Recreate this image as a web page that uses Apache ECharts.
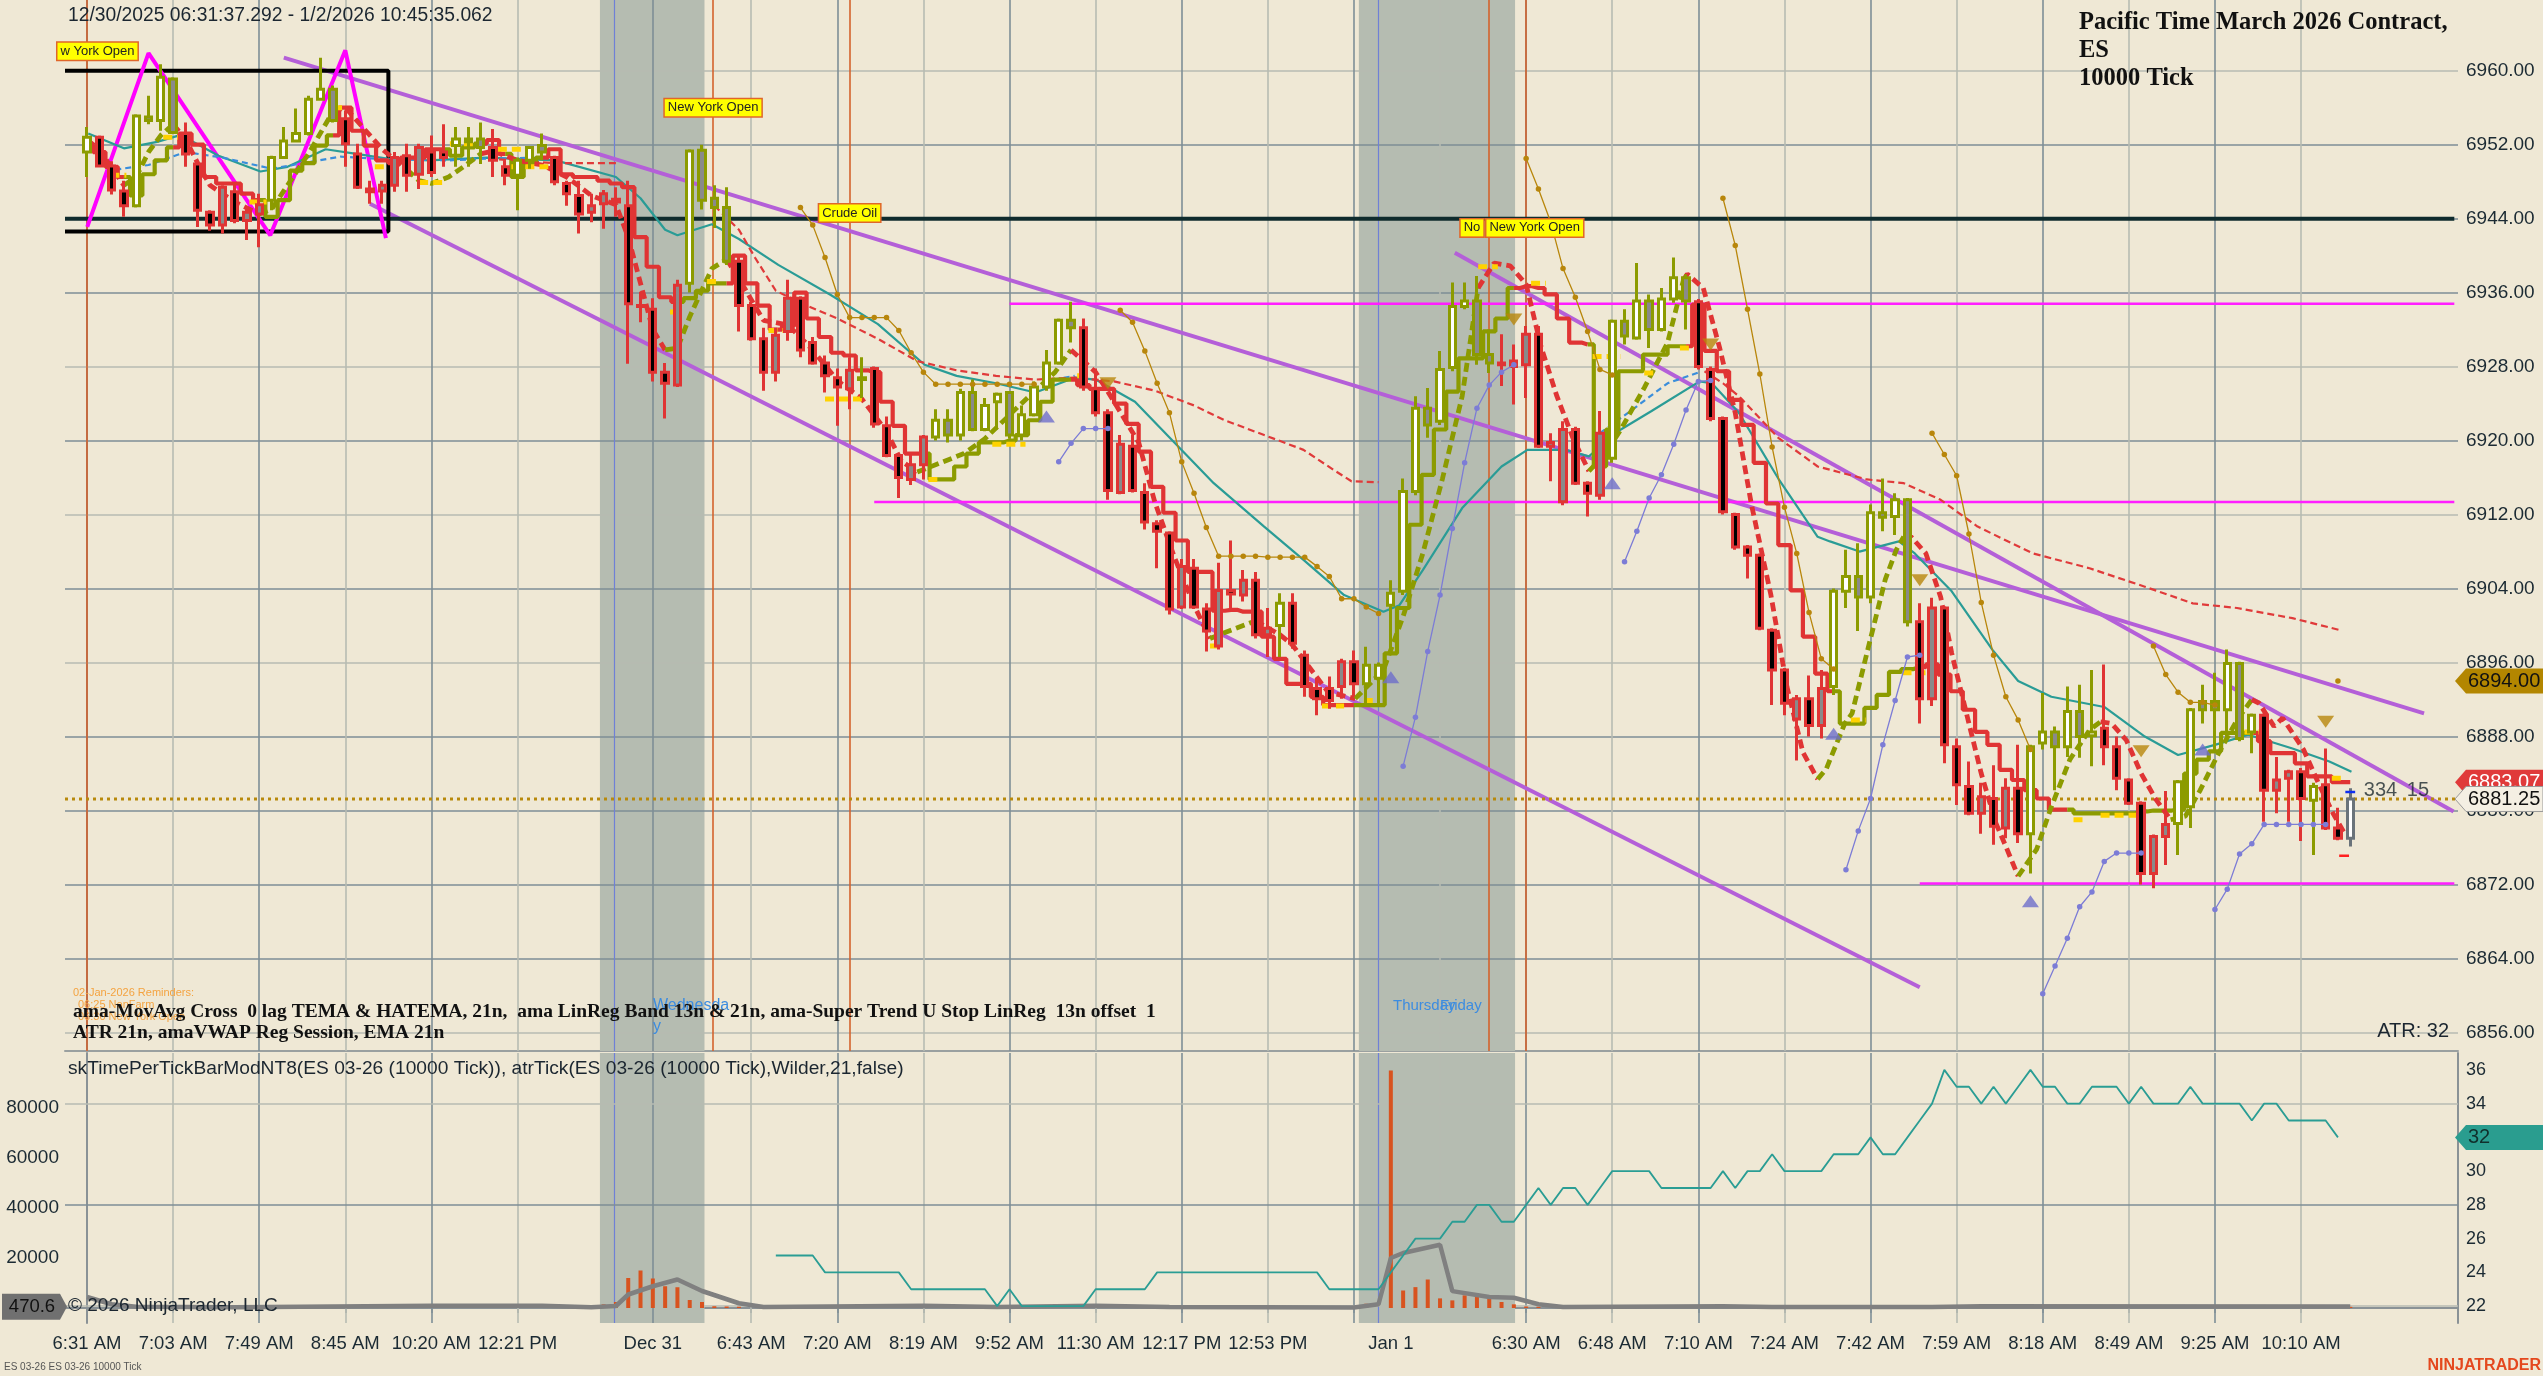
<!DOCTYPE html>
<html><head><meta charset="utf-8">
<script src="https://cdn.jsdelivr.net/npm/echarts@6/dist/echarts.min.js"></script>
<style>html,body{margin:0;padding:0;background:#EFE8D5;}#c{width:2543px;height:1376px;}</style>
</head><body><div id="c"></div>
<script>
// ---------------- DATA ----------------
const open=[6951.2,6952.8,6949.7,6947.0,6945.4,6955.0,6954.6,6959.1,6953.2,6949.9,6944.7,6943.3,6946.9,6943.8,6944.5,6946.0,6950.6,6952.4,6953.2,6956.9,6958.0,6954.8,6951.0,6947.2,6947.0,6947.6,6950.8,6948.8,6951.2,6951.2,6951.9,6952.3,6952.6,6951.7,6949.6,6948.7,6950.3,6951.9,6950.6,6947.8,6946.5,6944.7,6945.6,6946.1,6945.4,6934.6,6934.2,6927.4,6926.0,6937.0,6951.4,6946.2,6945.2,6939.4,6934.6,6931.0,6927.4,6931.8,6935.4,6930.6,6928.4,6926.8,6925.6,6926.8,6927.8,6921.6,6918.4,6915.8,6917.4,6920.4,6922.2,6920.6,6925.2,6921.2,6924.2,6925.2,6920.6,6922.8,6925.8,6928.4,6933.0,6932.2,6925.6,6923.0,6914.4,6919.4,6914.4,6911.0,6910.0,6902.0,6906.2,6901.8,6897.8,6903.8,6903.3,6904.9,6899.0,6900.0,6902.4,6896.8,6893.2,6893.2,6893.4,6896.1,6893.7,6894.3,6902.2,6903.7,6914.5,6923.5,6922.1,6927.9,6934.5,6935.1,6929.3,6928.4,6928.0,6928.2,6931.5,6919.4,6913.4,6921.2,6915.4,6914.1,6918.1,6932.9,6931.1,6935.1,6932.0,6935.3,6937.6,6935.0,6927.7,6922.4,6912.0,6908.5,6907.6,6899.5,6895.2,6889.9,6892.1,6889.2,6893.4,6903.7,6905.3,6903.1,6912.2,6911.8,6913.6,6900.4,6892.1,6901.9,6886.9,6882.6,6879.7,6881.3,6878.1,6882.4,6877.5,6887.3,6888.5,6886.9,6890.7,6888.1,6888.9,6886.9,6883.3,6880.8,6873.2,6877.2,6878.6,6880.4,6891.8,6891.8,6890.9,6895.9,6888.5,6890.3,6882.2,6883.5,6884.2,6881.1,6882.8,6878.1,6877.0];
const high=[6953.9,6953.0,6950.2,6948.1,6955.3,6957.3,6960.7,6959.3,6954.4,6950.2,6944.9,6947.6,6947.8,6945.1,6946.7,6950.8,6953.9,6955.9,6957.3,6961.4,6958.4,6955.7,6952.1,6948.1,6948.1,6951.2,6952.1,6952.1,6953.0,6954.2,6953.9,6953.9,6954.4,6953.7,6950.3,6950.6,6951.7,6953.2,6950.8,6948.1,6948.1,6946.7,6947.1,6947.4,6948.1,6936.1,6935.4,6928.4,6937.4,6951.5,6952.0,6947.6,6947.4,6940.0,6935.0,6932.2,6932.2,6937.4,6935.6,6931.2,6929.2,6927.8,6929.0,6929.0,6928.0,6922.6,6918.6,6918.6,6920.6,6923.4,6923.4,6925.6,6926.6,6924.6,6925.2,6925.2,6923.8,6926.4,6929.8,6933.2,6935.0,6933.2,6927.8,6923.4,6920.6,6920.6,6915.4,6911.4,6910.2,6907.2,6907.2,6902.4,6906.8,6909.2,6906.0,6905.8,6901.9,6903.5,6903.5,6897.3,6894.3,6894.5,6896.4,6897.3,6897.7,6896.0,6904.9,6915.9,6924.8,6925.7,6929.7,6937.1,6937.1,6937.8,6932.0,6931.5,6930.4,6932.4,6932.4,6920.8,6922.1,6921.5,6915.6,6923.2,6933.1,6934.2,6939.2,6935.8,6936.5,6939.8,6938.0,6935.3,6928.0,6922.6,6912.2,6908.7,6907.8,6899.7,6895.4,6892.5,6894.6,6895.2,6904.0,6908.2,6908.9,6913.1,6915.9,6914.3,6913.8,6902.4,6903.0,6902.1,6887.8,6885.3,6883.0,6884.9,6883.5,6887.1,6887.1,6892.7,6889.1,6893.4,6893.6,6895.2,6895.8,6888.0,6883.5,6881.0,6877.4,6882.1,6883.3,6891.1,6893.6,6894.9,6897.4,6896.1,6890.5,6890.5,6885.8,6884.4,6884.6,6883.0,6886.7,6880.3,6882.4];
const low=[6948.5,6949.6,6946.6,6944.2,6945.2,6954.2,6953.5,6953.2,6949.6,6943.1,6942.7,6942.4,6943.5,6941.7,6940.9,6944.9,6950.5,6952.3,6953.0,6956.8,6954.4,6949.6,6947.2,6945.6,6945.6,6946.9,6946.9,6947.2,6948.5,6949.6,6949.6,6949.6,6949.9,6948.5,6947.6,6944.9,6949.4,6950.3,6947.6,6945.4,6942.4,6943.6,6942.9,6944.2,6928.3,6932.8,6926.4,6922.4,6925.8,6936.0,6945.0,6943.0,6939.0,6931.8,6930.8,6925.4,6926.4,6930.8,6929.0,6928.2,6925.2,6921.6,6923.4,6924.6,6921.4,6918.2,6913.8,6915.2,6915.8,6920.0,6919.8,6920.0,6921.0,6921.0,6921.2,6920.2,6920.0,6922.6,6925.4,6928.2,6930.6,6925.4,6922.6,6913.6,6914.2,6914.4,6910.4,6906.2,6901.2,6901.8,6901.8,6897.2,6897.4,6901.8,6902.6,6898.6,6896.6,6896.6,6897.5,6892.3,6890.3,6891.0,6892.1,6892.3,6891.6,6891.4,6897.0,6903.3,6914.1,6920.3,6921.7,6927.5,6934.2,6928.2,6927.3,6925.9,6923.9,6924.6,6919.2,6915.6,6913.0,6915.2,6911.8,6913.6,6917.6,6930.4,6930.9,6930.0,6931.8,6934.9,6932.0,6927.7,6922.1,6912.0,6908.2,6905.1,6899.5,6891.4,6890.3,6885.4,6888.0,6887.8,6892.5,6901.9,6899.4,6902.4,6910.2,6909.8,6899.9,6889.4,6891.3,6885.1,6880.6,6879.5,6877.5,6876.3,6877.0,6876.5,6873.2,6886.6,6882.2,6885.8,6885.7,6884.8,6884.9,6882.2,6880.6,6872.0,6871.6,6874.1,6875.2,6878.1,6889.4,6886.4,6888.0,6887.5,6886.2,6878.8,6879.7,6878.8,6876.7,6875.2,6877.9,6876.8,6876.1];
const close=[6952.8,6949.7,6947.1,6945.4,6955.1,6954.6,6959.3,6953.3,6951.0,6944.9,6943.3,6947.4,6943.8,6944.7,6945.5,6950.6,6952.4,6953.2,6956.9,6958.0,6954.6,6952.1,6947.4,6946.9,6947.6,6950.6,6948.7,6951.7,6949.0,6950.6,6952.6,6952.6,6951.7,6950.3,6948.7,6950.3,6951.7,6951.2,6948.0,6946.7,6944.5,6945.4,6946.7,6945.8,6934.8,6934.5,6927.4,6926.2,6936.8,6951.3,6946.0,6945.2,6939.4,6934.6,6931.0,6927.4,6931.4,6935.4,6929.8,6928.4,6927.0,6925.8,6927.6,6926.6,6921.8,6918.4,6916.0,6917.4,6920.4,6922.2,6920.6,6925.2,6921.2,6923.8,6925.0,6920.6,6922.8,6925.8,6928.4,6933.0,6932.2,6925.8,6923.0,6914.6,6919.6,6914.6,6911.2,6910.2,6901.8,6906.4,6902.0,6899.4,6903.8,6903.4,6904.9,6899.0,6899.7,6902.4,6898.1,6893.4,6892.1,6891.9,6896.1,6893.7,6895.7,6895.7,6903.5,6914.5,6923.5,6921.7,6927.7,6934.5,6935.1,6929.3,6928.4,6928.2,6928.6,6931.5,6919.4,6919.8,6921.2,6915.4,6914.3,6920.8,6932.9,6931.3,6935.1,6932.0,6935.3,6937.6,6935.1,6928.0,6922.4,6912.3,6908.5,6907.6,6899.7,6895.2,6891.6,6892.1,6889.2,6893.2,6903.7,6905.3,6903.1,6912.2,6911.7,6913.6,6900.4,6892.1,6901.9,6887.1,6882.8,6879.7,6881.5,6878.3,6882.4,6877.5,6886.9,6888.5,6886.9,6890.7,6888.0,6888.5,6886.9,6883.5,6880.8,6873.2,6877.2,6878.5,6883.1,6890.9,6890.9,6890.9,6895.9,6887.8,6890.3,6882.2,6883.3,6884.2,6881.3,6882.6,6878.1,6877.0,6881.25];
// bar colouring: g = up-trend (olive), r = down-trend (red), n = forming bar
const trend=["g","rrr","gggg","rrrrrrr","gggggg","rrrrrrrrr","ggg","rr","ggg","rrrrrrrrrrr","gggg","rrrrrrrrrr","g","rrrrr","gggggggggggg","rrrrrrrrrrrrrrrr","g","rrrrrr","ggggggggggg","rrrrrrrrr","ggggggg","rrrrrrrrrrr","ggggggg","rrrrrrrrr","gggggg","rrrrrr","ggggggg","rrrr","g","rr","n"].join('');
// stepped trend line (ama LinReg) and its colour
const trailVals=[6951.9,6951.2,6949.6,6948.5,6946.5,6948.8,6950.3,6951.7,6953.2,6952.0,6948.5,6947.8,6947.8,6946.7,6946.0,6944.2,6946.0,6949.2,6950.0,6951.9,6953.0,6956.0,6953.5,6951.9,6950.3,6950.0,6950.6,6950.6,6951.5,6951.5,6950.8,6951.7,6952.1,6952.5,6951.0,6948.5,6950.0,6950.6,6951.5,6948.8,6948.5,6948.5,6948.1,6947.8,6947.4,6942.0,6938.8,6935.5,6935.0,6935.4,6936.2,6937.0,6937.0,6940.0,6937.0,6934.6,6932.0,6932.4,6936.0,6933.2,6931.2,6929.5,6929.2,6927.6,6927.4,6924.2,6921.6,6918.6,6918.6,6915.8,6915.8,6917.2,6918.6,6919.8,6919.8,6920.0,6920.6,6922.2,6924.2,6926.6,6926.6,6926.0,6925.6,6925.6,6924.0,6921.8,6918.8,6915.0,6912.2,6909.2,6905.8,6905.8,6901.6,6901.7,6901.5,6901.5,6898.8,6896.4,6893.7,6893.7,6892.3,6891.4,6891.4,6891.4,6891.4,6891.4,6897.0,6901.9,6910.9,6916.3,6921.2,6925.3,6928.9,6928.9,6931.8,6933.2,6936.5,6936.7,6936.5,6935.8,6933.2,6930.6,6930.4,6917.2,6921.2,6927.5,6927.5,6929.3,6929.3,6930.2,6930.2,6934.7,6929.7,6927.5,6924.4,6921.7,6917.6,6913.2,6908.7,6903.8,6898.8,6894.8,6892.9,6889.4,6889.4,6891.1,6892.5,6895.0,6895.3,6895.5,6895.8,6894.7,6892.9,6890.9,6888.5,6887.1,6884.4,6883.3,6882.2,6881.3,6880.1,6880.1,6879.7,6879.7,6879.7,6879.7,6879.7,6879.9,6880.0,6880.0,6880.1,6884.0,6885.5,6886.4,6888.4,6888.4,6888.4,6887.5,6886.2,6886.2,6885.1,6883.7,6883.7,6883.07,6883.07];
const trailDir=["rrrr","gggg","rrrrrrr","gggggg","rrrrrrrrr","ggg","rr","ggg","rrrrrrrrrrr","gggg","rrrrrrrrrrrrrrrr","gggggggggggg","rrrrrrrrrrrrrrrrrrrrrrr","ggggggggggggg","rrrrrr","gggggggg","rrrrrrrrrrrr","ggggggg","rrrrrrrrrrrr","ggggggggggggggg","rrrrrrrr"].join('');
// thick dashed HATEMA line: [bar, price, colour]
const hatema=[[0,6952.5,'r'],[1,6951.5,'r'],[2,6949.5,'r'],[3,6947.6,'r'],[4,6948.5,'g'],[5,6951.2,'g'],[6,6953,'g'],[7,6954.2,'g'],[8,6952.6,'r'],[9,6950,'r'],[10,6947.6,'r'],[12,6945.8,'r'],[14,6944.5,'r'],[15,6945,'g'],[16,6947,'g'],[18,6951,'g'],[20,6955.6,'g'],[21,6956,'r'],[22,6954.5,'r'],[24,6951.5,'r'],[26,6949.3,'r'],[27,6948.1,'g'],[28,6947.8,'g'],[29.4,6948.5,'g'],[30.6,6949.6,'g'],[32,6951,'g'],[33,6951.3,'r'],[35,6950.3,'r'],[37,6949.8,'r'],[39,6948.5,'r'],[41,6946.5,'r'],[43,6945.5,'r'],[44,6942,'r'],[45,6937,'r'],[46,6932,'r'],[47,6929.8,'r'],[48,6930,'g'],[49,6933.4,'g'],[50.8,6938.6,'g'],[52,6939.6,'g'],[53,6937.5,'r'],[55,6933,'r'],[57,6932.5,'r'],[59,6929.8,'r'],[61,6926.5,'r'],[63,6924.5,'r'],[65,6921,'r'],[66.2,6917.8,'r'],[67.5,6916.6,'r'],[69.4,6917.6,'g'],[71.3,6918.6,'g'],[73,6920.2,'g'],[75.8,6923.8,'g'],[77.1,6925.4,'g'],[78.7,6927.4,'g'],[80,6929.8,'g'],[82,6927.4,'r'],[83.5,6924.2,'r'],[85.5,6919.8,'r'],[86.8,6913.4,'r'],[88.4,6907.4,'r'],[90,6902.2,'r'],[91.3,6898.6,'r'],[93,6899.5,'g'],[95,6900.5,'g'],[97,6899,'r'],[98,6897.9,'r'],[100.9,6892.8,'r'],[103.1,6892.1,'r'],[105.4,6895.2,'g'],[107,6901,'g'],[108.6,6907.8,'g'],[110.2,6915.9,'g'],[111.8,6924.8,'g'],[113.1,6936.5,'g'],[114.4,6939.2,'r'],[115.7,6938.9,'r'],[117,6936.9,'r'],[118.2,6930.2,'r'],[119.5,6924.8,'r'],[120.8,6920.3,'r'],[122.1,6916.7,'r'],[123.4,6918.5,'g'],[124.7,6921.2,'g'],[126.6,6925.7,'g'],[128.5,6930.6,'g'],[129.8,6937.4,'g'],[130.1,6938,'r'],[131.4,6936.5,'r'],[132.7,6930.2,'r'],[134,6923,'r'],[135.3,6913.2,'r'],[136.9,6903.3,'r'],[138.2,6893.4,'r'],[139.5,6886.3,'r'],[140.7,6883.4,'r'],[141.4,6884.5,'g'],[142.9,6889.4,'g'],[143.5,6890.5,'g'],[144.7,6897,'g'],[146.2,6905,'g'],[147.1,6908.2,'g'],[147.7,6909.6,'g'],[148.3,6909.6,'r'],[149.5,6907.8,'r'],[150.7,6903.1,'r'],[151.6,6897,'r'],[152.8,6890.5,'r'],[154,6884,'r'],[155.2,6878.6,'r'],[156.1,6875.8,'r'],[157,6872.9,'r'],[158.5,6875.8,'g'],[159.7,6880.4,'g'],[161.2,6885.5,'g'],[162.8,6888.7,'g'],[163.7,6889.6,'g'],[164.6,6889.4,'r'],[165.8,6887.6,'r'],[167,6884,'r'],[168.2,6881.2,'r'],[169.4,6879,'r'],[170.6,6879.4,'g'],[171.8,6882.2,'g'],[173.3,6886.2,'g'],[174.8,6889.8,'g'],[176,6892,'g'],[176.6,6891.6,'r'],[177.8,6889.1,'r'],[178.5,6890,'r'],[180.2,6886.6,'r'],[181.4,6883,'r'],[182.6,6879.7,'r'],[183.5,6877.6,'r']];
// yellow super-trend stop pieces: [fromBar, toBar, price]
const stops=[[1.9,3.2,6948.7],[6.2,7.4,6952.8],[13.2,14.6,6945.8],[20,20.9,6956],[23.4,24.4,6949.6],[27,29,6947.9],[29.5,32.2,6952.1],[33.4,35.6,6951.5],[34.5,37.5,6949.6],[47.4,48.3,6933.9],[50.4,51.5,6937.2],[55.4,57.5,6931.9],[60,63,6924.5],[68.4,69.4,6915.8],[73.6,76.3,6919.6],[80.5,81.6,6927],[91.3,92.2,6897.8],[100.4,102.2,6891.3],[103.8,104.9,6891.9],[113.1,114.7,6938.8],[117.4,118.6,6937],[122.4,124.7,6929.1],[126.6,127.6,6927.3],[129.5,131.1,6930],[143.4,144.6,6889.8],[147.6,149.5,6894.9],[161.5,162.5,6879],[163.7,166.7,6879.5],[175.4,176.6,6888.5],[182.5,183.5,6883.5]];
// EMA 21 (teal)
const ema=[[0.1,6953.2],[3,6951.6],[5.7,6952.3],[7.5,6953],[8.5,6952.4],[10.7,6950.8],[14.1,6949.1],[16.3,6949.6],[19.4,6951.5],[21.9,6951],[24.4,6950.5],[27.8,6950.3],[32.5,6950.6],[38.1,6950.3],[43,6948.5],[45,6946.2],[47,6942.8],[48,6942.2],[50.8,6943.4],[53,6941.8],[56.2,6939],[60.4,6935.8],[64.3,6932.6],[68.1,6928.2],[70.7,6927],[73.9,6926.2],[77.1,6925.2],[80.3,6926.8],[82,6926.6],[85.2,6924.2],[88.4,6919.8],[91.6,6915.4],[95.7,6910.7],[98.9,6907.1],[102.2,6903.3],[105.4,6901.5],[106.7,6902.2],[108.6,6906],[111.8,6912.7],[115,6917.2],[117.1,6919],[120.2,6919],[122.1,6918.3],[124.7,6921.2],[127.2,6923.2],[131.1,6926.4],[132.1,6926.2],[134.3,6923],[137.5,6915.9],[140.7,6909.6],[141.7,6909.1],[144.1,6908],[147.3,6909.1],[148.6,6907.8],[151.6,6903.7],[154.9,6897.4],[157,6894],[159.7,6892.3],[164,6891.2],[167.3,6888],[170,6886],[173,6887.1],[175.7,6888.2],[179.3,6886.7],[182.3,6885.3],[184.1,6884.2]];
// VWAP (blue dashed) and upper band (red dashed), per session
const vwapSegs=[[[2.3,6949.3],[5,6949.8],[8,6951.2],[11,6950.6],[15,6949.4],[18,6950.1],[20.6,6950.7],[24.7,6950.4],[29.4,6950.3],[32.5,6950.5],[37.8,6950.6]],[[77.8,6926.4],[80.3,6927]],[[123,6920.8],[126,6923.7],[128.5,6926.2],[131.1,6927.4]]];
const bandSegs=[[[33.5,6950.4],[38,6950],[43,6950]],[[51,6945.4],[53,6942.8],[54.3,6939.8],[56,6936.2],[58.5,6934.6],[61,6933.2],[64.3,6931],[67.5,6928.6],[70.7,6927.6],[73.9,6927],[77.1,6926.6],[80.3,6926.8],[83.5,6926.4],[86.8,6925.4],[90,6923.8],[92.5,6922.2],[95.7,6920.6],[98.9,6919],[101.5,6916.7],[102.8,6915.6],[105,6915.5]],[[131.5,6927.5],[133,6926.2],[134.3,6924.8],[137.5,6920.3],[140.7,6917.2],[144.7,6915.8],[147.7,6915.4],[150.7,6913.6],[153.7,6910.7],[158.2,6907.8],[162.8,6906.2],[167.3,6904.2],[171.2,6902.4],[174.8,6901.9],[179.3,6900.8],[183.2,6899.5]]];
// trailing stop dots (brown = short stop, blue = long stop)
const brownSegs=[[[58,6945.2],[59,6943.3],[60,6939.8],[61,6935.8],[62,6933.3],[63,6933.3],[64,6933.3],[65,6933.3],[66,6931.9],[67,6929.5],[68,6927.4],[69,6926.1],[70,6926.1],[71,6926.1],[72,6926.1],[73,6926.1],[74,6926.1],[75,6926.1],[76,6926.1],[77,6926.1]],[[84,6934.1],[85,6932.8],[86,6929.7],[87,6926.2],[88,6923],[89,6917.7],[90,6914.3],[91,6910.6],[92,6907.5],[93,6907.5],[94,6907.5],[95,6907.5],[96,6907.4],[97,6907.4],[98,6907.4],[99,6907.4],[100,6906.4],[101,6905.3],[102,6902.9],[103,6902.9],[104,6902],[105,6901.3]],[[117,6950.5],[118,6947.2],[119,6943.6],[120,6938.6],[121,6935.5],[122,6931.8],[123,6927.7],[124,6927.1]],[[133,6946.2],[134,6941.1],[135,6934.2],[136,6927.2],[137,6919.3],[138,6912.8],[139,6907.8],[140,6901.4],[141,6896.4],[142,6895.3]],[[150,6920.8],[151,6918.5],[152,6916.2],[153,6909.9],[154,6902.5],[155,6896.8],[156,6892.3],[157,6889.8],[158,6886.6]],[[168,6897.8],[169,6894.7],[170,6892.8],[171,6891.7],[172,6891.7],[173,6891.4]],[[183,6894.0]]];
const blueSegs=[[[79,6917.7],[80,6919.7],[81,6921.3],[82,6921.3],[83,6921.3]],[[107,6884.8],[108,6890.1],[109,6897.2],[110,6903.3],[111,6910.5],[112,6917.6],[113,6923.5],[114,6926],[115,6927.4],[116,6928.2]],[[125,6906.9],[126,6910.2],[127,6913.8],[128,6916.3],[129,6919.6],[130,6923.3],[131,6926.4],[132,6926.5]],[[143,6873.6],[144,6877.8],[145,6881.3],[146,6887.1],[147,6891.9],[148,6896.6],[149,6896.8]],[[159,6860.2],[160,6863.2],[161,6866.2],[162,6869.6],[163,6871.2],[164,6874.5],[165,6875.4],[166,6875.4],[167,6875.4]],[[173,6869.3],[174,6871.5],[175,6875.3],[176,6876.4],[177,6878.5],[178,6878.5],[179,6878.5],[180,6878.5],[181,6878.5],[182,6878.5]]];
const upTri=[[78,6922.6],[106,6894.4],[124,6915.4],[142,6888.3],[158,6870.2],[172,6886.6]];
const downTri=[[83,6926.2],[116,6933.1],[132,6930.4],[149,6904.9],[167,6886.4],[182,6889.6]];
// drawings
const trendLines=[[16,6961.4,190,6890.5],[23,6945.6,149,6860.9],[111.2,6940.3,192.4,6879.9]];
const zigzag=[[0.02,6943.1],[5,6961.9],[14.9,6942.2],[21,6962.2],[24.3,6941.9]];
const boxPts=[[-1.79,6960],[24.5,6960],[24.5,6942.6],[-1.79,6942.6]];
const blackLevel=6944;
const magentaLevels=[[75,6934.8],[64,6913.35],[149,6872.1]];
const lastPrice=6881.25;
const sessions=[[41.7,50.2],[103.4,116.1]];
const sessionLines=[0,50.9,62,114,117];
const sessionBreaks=[42.85,105];
const sessionLabels=[['w York Open',0.85,6962.1],['New York Open',50.9,6956.0],['Crude Oil',62,6944.6],['No',112.6,6943.0],['New York Open',117.7,6943.0]];
// price scale
const priceTicks=[6856,6864,6872,6880,6888,6896,6904,6912,6920,6928,6936,6944,6952,6960];
const priceLight=[6960,6928,6912,6896,6856];
// time axis
const labelIdx=[0,7,14,21,28,35,46,54,61,68,75,82,89,96,106,117,124,131,138,145,152,159,166,173,180];
const labelTxt=['6:31 AM','7:03 AM','7:49 AM','8:45 AM','10:20 AM','12:21 PM','Dec 31','6:43 AM','7:20 AM','8:19 AM','9:52 AM','11:30 AM','12:17 PM','12:53 PM','Jan 1','6:30 AM','6:48 AM','7:10 AM','7:24 AM','7:42 AM','7:59 AM','8:18 AM','8:49 AM','9:25 AM','10:10 AM'];
const extraTicks=[42,103,110];
const gridX=[7,14,21,28,35,46,54,61,68,75,82,89,96,103,110,117,124,131,138,145,152,159,166,173,180];
// lower panel
const tickTimeIdx=[29,30,31,32,33,34,35,36,42,43,44,45,46,47,48,49,50,51,52,53,104,106,107,108,109,110,111,112,113,114,115,116,117,118,184];
const tickTimeVal=[600,700,600,600,700,600,600,500,1470,2400,12000,15000,11800,8700,8300,3200,2400,700,600,500,1700,95000,7000,8350,11400,3850,3050,5050,5150,4100,2400,1470,600,500,470];
const tickTimeAvg=[[0,4400],[2,1500],[4,500],[12,300],[28,900],[37,900],[41,300],[43,800],[44,5400],[46,8700],[48,11400],[50,6800],[53,1900],[55,400],[68,900],[74,400],[82,900],[88,400],[103,200],[105,1500],[106,20000],[107,22000],[110,25300],[111,6750],[114,4400],[116,4100],[118,1500],[120,400],[133,700],[137,400],[150,400],[154,700],[184,600]];
const atrStart=56;
const atrVals=[25,25,25,25,24,24,24,24,24,24,24,23,23,23,23,23,23,23,22,23,22,22,22,22,22,22,23,23,23,23,23,24,24,24,24,24,24,24,24,24,24,24,24,24,24,23,23,23,23,23,24,25,26,26,26,27,27,28,28,27,27,28,29,28,29,29,28,29,30,30,30,30,29,29,29,29,29,30,29,30,30,31,30,30,30,30,31,31,31,32,31,31,32,33,34,36,35,35,34,35,34,35,36,35,35,34,34,35,35,35,34,35,34,34,34,35,34,34,34,34,33,34,34,33,33,33,33,32];

// ---------------- CHART ----------------
const XMIN=-1.79, XMAX=192.76;
const OL='#8C9B00', RD='#E03434', BG='#EFE8D5';
const DARK='#7E8E96', LIGHT='#B7BBB2';
const chart=echarts.init(document.getElementById('c'));
const M={xAxisIndex:0,yAxisIndex:0};
function line(data,color,width,type,z,extra){
  return Object.assign({type:'line',xAxisIndex:0,yAxisIndex:0,data:data,symbol:'none',silent:true,animation:false,
    lineStyle:{color:color,width:width,type:type||'solid'},z:z},extra||{});
}
function splitRuns(pts,dirs){
  const runs=[];let cur=null;
  for(let k=0;k<pts.length;k++){
    if(!cur||cur.d!==dirs[k]){const r={d:dirs[k],pts:[]};if(cur)r.pts.push(pts[k-1]);runs.push(r);cur=r;}
    cur.pts.push(pts[k]);
  }
  return runs;
}
const series=[];
series.push({type:'line',xAxisIndex:0,yAxisIndex:0,data:[],z:0,silent:true,
  markArea:{silent:true,itemStyle:{color:'#B5BCB1'},data:sessions.map(s=>[{xAxis:s[0]},{xAxis:s[1]}])}});
const gl=[];
priceTicks.forEach(v=>gl.push({yAxis:v,lineStyle:{color:priceLight.indexOf(v)>=0?LIGHT:DARK,width:1.6,type:'solid'}}));
gridX.forEach((x,k)=>gl.push({xAxis:x,lineStyle:{color:k%2?DARK:LIGHT,width:1.6,type:'solid'}}));
sessionBreaks.forEach(x=>gl.push({xAxis:x,lineStyle:{color:'#6F80D6',width:1.2,type:'solid'}}));
sessionLines.forEach(x=>gl.push({xAxis:x,lineStyle:{color:'#D4622C',width:1.6,type:'solid'}}));
series.push({type:'line',xAxisIndex:0,yAxisIndex:0,data:[],z:1,silent:true,
  markLine:{silent:true,symbol:['none','none'],label:{show:false},animation:false,data:gl}});
series.push({type:'line',xAxisIndex:1,yAxisIndex:2,data:[],z:0,silent:true,
  markArea:{silent:true,itemStyle:{color:'#B5BCB1'},data:sessions.map(s=>[{xAxis:s[0]},{xAxis:s[1]}])}});
const gl2=[];
gridX.forEach((x,k)=>gl2.push({xAxis:x,lineStyle:{color:k%2?DARK:LIGHT,width:1.6,type:'solid'}}));
sessionBreaks.forEach(x=>gl2.push({xAxis:x,lineStyle:{color:'#6F80D6',width:1.2,type:'solid'}}));
[[34,LIGHT],[28,DARK],[22,LIGHT]].forEach(a=>gl2.push({yAxis:a[0],lineStyle:{color:a[1],width:1.6,type:'solid'}}));
series.push({type:'line',xAxisIndex:1,yAxisIndex:2,data:[],z:1,silent:true,
  markLine:{silent:true,symbol:['none','none'],label:{show:false},animation:false,data:gl2}});
trendLines.forEach(t=>series.push(line([[t[0],t[1]],[t[2],t[3]]],'#B45FD8',4,'solid',10)));
series.push(line([[XMIN,blackLevel],[XMAX-0.3,blackLevel]],'#0F2B2D',4,'solid',10));
magentaLevels.forEach(m=>series.push(line([[m[0],m[1]],[XMAX-0.3,m[1]]],'#FF1EFF',2.5,'solid',10)));
series.push(line([[XMIN,lastPrice],[XMAX,lastPrice]],'#B8890C',3,[3,4],10));
series.push(line(boxPts,'#000000',4,'solid',10));
series.push(line(zigzag,'#FF00FF',4,'solid',10));
series.push(line(ema,'#2A9C96',2.2,'solid',11));
vwapSegs.forEach(s=>series.push(line(s,'#3A8EDB',2.2,[6,4],11)));
bandSegs.forEach(s=>series.push(line(s,'#E03A3A',2.2,[7,4],11)));
const trailPts=trailVals.map((v,i)=>[i,v]);
splitRuns(trailPts,trailDir).forEach(r=>series.push(line(r.pts,r.d==='g'?OL:RD,4.2,'solid',12,{step:'middle'})));
splitRuns(hatema.map(h=>[h[0],h[1]]),hatema.map(h=>h[2])).forEach(r=>series.push(line(r.pts,r.d==='g'?OL:RD,4.8,[9,5],13)));
stops.forEach(s=>series.push(line([[s[0],s[2]],[s[1],s[2]]],'#FFD200',5,[9,5],13)));
const candleData=open.map((o,i)=>{
  const c=close[i],t=trend[i];
  const border=t==='g'?OL:(t==='r'?RD:'#6A737A');
  let fill;
  if(t==='g')fill=c>=o?'#FFFFFF':'#8A8A8A';
  else if(t==='r')fill=c<=o?'#000000':'#8A8A8A';
  else fill='#FFFFFF';
  return {value:[i,o,c,low[i],high[i]],itemStyle:{color:fill,color0:fill,borderColor:border,borderColor0:border,borderColorDoji:border}};
});
series.push({type:'candlestick',xAxisIndex:0,yAxisIndex:0,data:candleData,encode:{x:0,y:[1,2,3,4]},
  barWidth:6.8,itemStyle:{borderWidth:3},z:14,silent:true,animation:false});
series.push(line([[183.6,6882.0],[184.4,6882.0]],'#1030F0',2.5,'solid',15));
series.push(line([[183.1,6875.1],[183.9,6875.1]],'#FF2020',2.5,'solid',15));
brownSegs.forEach(s=>series.push(line(s,'#B8860B',1.3,'solid',15,{symbol:'circle',symbolSize:5.5,showSymbol:true,itemStyle:{color:'#B8860B'}})));
blueSegs.forEach(s=>series.push(line(s,'#7C7CD6',1.3,'solid',15,{symbol:'circle',symbolSize:5.5,showSymbol:true,itemStyle:{color:'#7C7CD6'}})));
series.push({type:'scatter',xAxisIndex:0,yAxisIndex:0,data:upTri,symbol:'triangle',symbolSize:[17,12],itemStyle:{color:'#6E6ECB'},z:16,silent:true});
series.push({type:'scatter',xAxisIndex:0,yAxisIndex:0,data:downTri,symbol:'triangle',symbolRotate:180,symbolSize:[17,12],itemStyle:{color:'#B8860B'},z:16,silent:true});
series.push({type:'scatter',xAxisIndex:0,yAxisIndex:0,symbolSize:0,z:16,silent:true,
  data:[{value:[185.1,6882.2],label:{formatter:'334'}},{value:[188.6,6882.2],label:{formatter:'15'}}],
  label:{show:true,position:'right',distance:0,fontSize:20,color:'#1E2A30',fontFamily:'Arial'}});
series.push({type:'bar',xAxisIndex:1,yAxisIndex:1,data:tickTimeIdx.map((x,k)=>[x,tickTimeVal[k]]),barWidth:4,itemStyle:{color:'#D8531F'},z:10,silent:true,animation:false});
series.push({type:'line',xAxisIndex:1,yAxisIndex:1,data:tickTimeAvg,symbol:'none',lineStyle:{color:'#808080',width:4.5},z:11,silent:true});
series.push({type:'line',xAxisIndex:1,yAxisIndex:2,data:atrVals.map((v,k)=>[atrStart+k,v]),symbol:'none',lineStyle:{color:'#2A9D94',width:1.8},z:12,silent:true});

const labelMap={};labelIdx.forEach((v,k)=>labelMap[v]=labelTxt[k]);
const AX='#8A9296', TXT='#1B2A33';
chart.setOption({
  animation:false,backgroundColor:BG,textStyle:{fontFamily:'Arial'},
  grid:[{left:65,right:85,top:0,height:1051},{left:65,right:85,top:1053,height:270}],
  xAxis:[
    {type:'value',gridIndex:0,min:XMIN,max:XMAX,axisLine:{show:true,lineStyle:{color:'#9AA0A0',width:2}},axisTick:{show:false},axisLabel:{show:false},splitLine:{show:false}},
    {type:'value',gridIndex:1,min:XMIN,max:XMAX,axisLine:{show:true,lineStyle:{color:AX,width:2}},
      axisTick:{show:true,length:5,lineStyle:{color:AX,width:1.5},customValues:labelIdx.concat(extraTicks)},
      axisLabel:{show:true,customValues:labelIdx,formatter:v=>labelMap[v]||'',fontSize:18.5,color:TXT,margin:11},
      splitLine:{show:false}}
  ],
  yAxis:[
    {type:'value',gridIndex:0,position:'right',min:6854,max:6967.64,interval:2,
      axisLine:{show:true,lineStyle:{color:AX,width:2}},axisTick:{show:false},splitLine:{show:false},
      axisLabel:{fontSize:19,color:TXT,margin:8,formatter:v=>(v>=6856&&v<=6960&&Math.abs((v-6856)%8)<1e-6)?v.toFixed(2):''}},
    {type:'value',gridIndex:1,position:'left',min:-6000,max:102000,interval:2000,
      axisLine:{show:true,lineStyle:{color:AX,width:2}},axisTick:{show:false},splitLine:{show:false},
      axisLabel:{fontSize:19,color:TXT,margin:6,formatter:v=>(v>0&&v%20000===0&&v<=80000)?String(v):''}},
    {type:'value',gridIndex:1,position:'right',min:21,max:37,interval:1,
      axisLine:{show:true,lineStyle:{color:AX,width:2}},axisTick:{show:false},splitLine:{show:false},
      axisLabel:{fontSize:18,color:TXT,margin:8,formatter:v=>(v>=22&&v<=36&&v%2===0)?String(v):''}}
  ],
  series:series
});

// ---------------- ANNOTATIONS ----------------
function T(x,y,text,font,fill,align,extra){
  const st=Object.assign({text:text,font:font,fill:fill,align:align||'left',textAlign:align||'left',verticalAlign:'middle',textVerticalAlign:'middle'},extra||{});
  return {type:'text',z:100,x:x,y:y,silent:true,style:st};
}
const g=[];
g.push(T(68,16,'12/30/2025 06:31:37.292 - 1/2/2026 10:45:35.062','19.3px Arial','#1B2630'));
g.push(T(2079,23,'Pacific Time March 2026 Contract,','bold 24.5px "Liberation Serif"','#111'));
g.push(T(2079,51,'ES','bold 24.5px "Liberation Serif"','#111'));
g.push(T(2079,79,'10000 Tick','bold 24.5px "Liberation Serif"','#111'));
g.push(T(73,993,'02-Jan-2026 Reminders:','11px Arial','#F4A340'));
g.push(T(78,1005,'06:25 NonFarm','11px Arial','#F4A340'));
g.push(T(78,1017,'06:30 New York Open','11px Arial','#F4A340'));
g.push(T(653,1006,'Wednesda','16px Arial','#3C8CE0'));
g.push(T(653,1027,'y','16px Arial','#3C8CE0'));
g.push(T(1393,1006,'Thursday','15px Arial','#3C8CE0'));
g.push(T(1440,1006,'Friday','15px Arial','#3C8CE0'));
g.push(T(73,1012,'ama-MovAvg Cross  0 lag TEMA & HATEMA, 21n,  ama LinReg Band 13n & 21n, ama-Super Trend U Stop LinReg  13n offset  1','bold 19.5px "Liberation Serif"','#111'));
g.push(T(73,1033,'ATR 21n, amaVWAP Reg Session, EMA 21n','bold 19.5px "Liberation Serif"','#111'));
g.push(T(2449,1031,'ATR: 32','20px Arial','#1B2630','right'));
g.push(T(68,1069,'skTimePerTickBarModNT8(ES 03-26 (10000 Tick)), atrTick(ES 03-26 (10000 Tick),Wilder,21,false)','19.2px Arial','#1B2630'));
g.push(T(68,1306,'\u00A9 2026 NinjaTrader, LLC','19px Arial','#1B2630'));
g.push(T(4,1367,'ES 03-26 ES 03-26 10000 Tick','10px Arial','#555'));
g.push(T(2541,1366,'NINJATRADER','bold 16px Arial','#E4481E','right'));
sessionLabels.forEach(s=>{
  const p=chart.convertToPixel(M,[s[1],s[2]]);
  g.push(T(p[0],p[1],s[0],'13px Arial','#222','center',{backgroundColor:'#FFFF00',borderColor:'#E0662A',borderWidth:1.5,padding:[2,3,2,3]}));
});
function tag(yAxisIndex,val,text,bg,fg,stroke){
  const y=chart.convertToPixel({yAxisIndex:yAxisIndex},val);
  g.push({type:'polygon',z:100,silent:true,shape:{points:[[2455,y],[2466,y-12.5],[2543,y-12.5],[2543,y+12.5],[2466,y+12.5]]},
    style:{fill:bg,stroke:stroke||null,lineWidth:stroke?1:0}});
  g.push(T(2468,y+0.5,text,'20px Arial',fg));
}
tag(0,6894.00,'6894.00','#B38600','#111');
tag(0,6883.07,'6883.07','#E03A3A','#FFFFFF');
tag(0,6881.25,'6881.25','#F4EFE3','#111','#9A9A9A');
tag(2,32,'32','#2A9D8F','#10302C');
const yv=chart.convertToPixel({yAxisIndex:1},470.6);
g.push({type:'polygon',z:100,silent:true,shape:{points:[[2,yv-13],[60,yv-13],[67,yv],[60,yv+13],[2,yv+13]]},style:{fill:'#707070'}});
g.push(T(32,yv,'470.6','18.5px Arial','#111','center'));
chart.setOption({graphic:g});
</script></body></html>
